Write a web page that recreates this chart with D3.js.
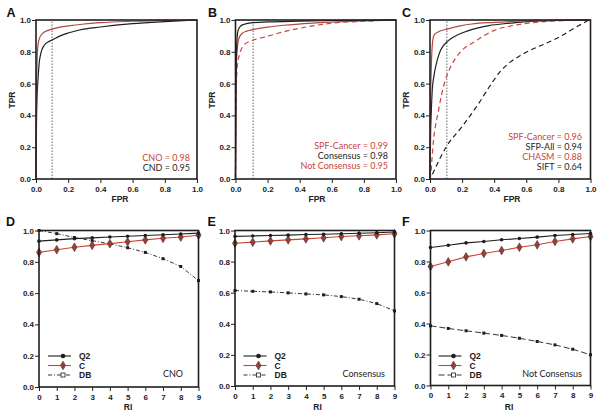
<!DOCTYPE html>
<html>
<head>
<meta charset="utf-8">
<script src="https://cdn.jsdelivr.net/npm/d3@7"></script>
<style>
  body { margin: 0; background: #fff; }
  .tick text { font-family: "Liberation Sans", Arial, sans-serif; font-weight: bold; font-size: 8px; fill: #222; }
  .tick line { stroke: #222; }
  .lab { font-family: "Liberation Sans", Arial, sans-serif; font-weight: bold; font-size: 8.5px; fill: #222; }
  .letter { font-family: "Liberation Sans", Arial, sans-serif; font-weight: bold; font-size: 12.5px; fill: #111; }
  .auc { font-family: Lato, "Open Sans", sans-serif; font-size: 9px; }
</style>
</head>
<body>
<div id="fig"></div>
<script>
// ---- panel A : ROC
var cnoFpr = [0, 0.002, 0.004, 0.007, 0.012, 0.02, 0.04, 0.07, 0.1, 0.15, 0.2, 0.3, 0.4, 0.6, 0.8, 1.0]
var cnoTpr = [0, 0.4, 0.6, 0.75, 0.84, 0.88, 0.915, 0.933, 0.943, 0.955, 0.963, 0.975, 0.983, 0.992, 0.998, 1.0]
var cndFpr = [0, 0.003, 0.006, 0.012, 0.02, 0.03, 0.05, 0.075, 0.1, 0.15, 0.2, 0.27, 0.4, 0.6, 0.8, 1.0]
var cndTpr = [0, 0.35, 0.5, 0.62, 0.73, 0.79, 0.84, 0.862, 0.874, 0.9, 0.918, 0.937, 0.956, 0.977, 0.99, 1.0]

// ---- panel B : ROC
var consFpr = [0, 0.003, 0.008, 0.015, 0.03, 0.05, 0.1, 0.2, 0.4, 0.6, 1.0]
var consTpr = [0, 0.6, 0.85, 0.93, 0.96, 0.972, 0.982, 0.988, 0.993, 0.997, 1.0]
var spfBFpr = [0, 0.003, 0.008, 0.02, 0.04, 0.07, 0.11, 0.2, 0.3, 0.5, 0.8, 1.0]
var spfBTpr = [0, 0.55, 0.78, 0.88, 0.915, 0.93, 0.94, 0.955, 0.967, 0.982, 0.995, 1.0]
var notConsFpr = [0, 0.003, 0.01, 0.027, 0.05, 0.08, 0.11, 0.2, 0.27, 0.4, 0.6, 0.8, 1.0]
var notConsTpr = [0, 0.45, 0.7, 0.79, 0.84, 0.862, 0.874, 0.897, 0.918, 0.948, 0.98, 0.992, 1.0]

// ---- panel C : ROC
var spfCFpr = [0, 0.003, 0.008, 0.015, 0.025, 0.05, 0.107, 0.18, 0.26, 0.4, 0.6, 0.8, 1.0]
var spfCTpr = [0, 0.45, 0.7, 0.85, 0.905, 0.925, 0.943, 0.962, 0.975, 0.985, 0.994, 0.998, 1.0]
var sfpAllFpr = [0, 0.004, 0.008, 0.014, 0.025, 0.035, 0.05, 0.066, 0.085, 0.107, 0.15, 0.22, 0.3, 0.367, 0.5, 0.6, 0.8, 1.0]
var sfpAllTpr = [0, 0.3, 0.42, 0.56, 0.65, 0.706, 0.765, 0.81, 0.84, 0.864, 0.895, 0.926, 0.95, 0.965, 0.98, 0.99, 0.998, 1.0]
var chasmFpr = [0, 0.005, 0.012, 0.022, 0.035, 0.05, 0.07, 0.095, 0.126, 0.16, 0.2, 0.28, 0.4, 0.5, 0.61, 0.8, 1.0]
var chasmTpr = [0, 0.03, 0.12, 0.245, 0.34, 0.415, 0.52, 0.62, 0.7, 0.76, 0.81, 0.865, 0.935, 0.962, 0.98, 0.995, 1.0]
var siftFpr = [0.015, 0.1, 0.2, 0.3, 0.37, 0.437, 0.5, 0.56, 0.625, 0.727, 0.8, 0.91, 0.99]
var siftTpr = [0.03, 0.2, 0.33, 0.47, 0.58, 0.675, 0.735, 0.775, 0.81, 0.855, 0.89, 0.955, 1.0]

// ---- panels D E F : RI
var ri = [0, 1, 2, 3, 4, 5, 6, 7, 8, 9]
var cnoQ2 = [0.932, 0.94, 0.948, 0.953, 0.958, 0.963, 0.968, 0.973, 0.978, 0.983]
var cnoC  = [0.86, 0.877, 0.893, 0.905, 0.916, 0.928, 0.94, 0.95, 0.958, 0.97]
var cnoDB = [1.0, 0.98, 0.955, 0.935, 0.915, 0.89, 0.86, 0.82, 0.77, 0.68]
var consQ2 = [0.962, 0.965, 0.968, 0.97, 0.974, 0.976, 0.979, 0.982, 0.986, 0.99]
var consC  = [0.918, 0.925, 0.933, 0.94, 0.946, 0.953, 0.961, 0.966, 0.972, 0.979]
var consDB = [0.614, 0.609, 0.605, 0.599, 0.592, 0.586, 0.575, 0.558, 0.53, 0.483]
var notQ2 = [0.89, 0.905, 0.92, 0.929, 0.94, 0.948, 0.957, 0.968, 0.974, 0.981]
var notC  = [0.768, 0.798, 0.83, 0.852, 0.871, 0.892, 0.908, 0.929, 0.946, 0.961]
var notDB = [0.385, 0.368, 0.353, 0.338, 0.323, 0.305, 0.284, 0.262, 0.234, 0.198]

var yTicks = [0, 0.2, 0.4, 0.6, 0.8, 1.0]
var fprTicks = [0, 0.2, 0.4, 0.6, 0.8, 1.0]

var RED = '#c8453a'
var DARKRED = '#b24a3e'
var BLACK = '#1e1e1e'

var svg = d3.select('#fig').append('svg')
            .attr('width', 600)
            .attr('height', 414)

function zip(a, b) { return a.map(function(v, i) { return [v, b[i]] }) }

function rocPanel(p) {
  var x = d3.scaleLinear().domain([0, 1]).range([p.left, p.right])
  var y = d3.scaleLinear().domain([0, 1]).range([179, 20])
  var g = svg.append('g')
  var xa = g.append('g').attr('transform', 'translate(0,179)')
   .call(d3.axisBottom(x).tickValues(fprTicks).tickSize(4).tickSizeOuter(0).tickFormat(d3.format('.1f')))
  xa.select('.domain').remove()
  xa.selectAll('text').attr('y', 7).attr('dy', '0.71em')
  var ya = g.append('g').attr('transform', 'translate(' + p.left + ',0)')
   .call(d3.axisLeft(y).tickValues(yTicks).tickSize(4).tickSizeOuter(0).tickFormat(d3.format('.1f')))
  ya.select('.domain').remove()
  ya.selectAll('text').attr('x', -5)

  g.append('line')
   .attr('x1', x(p.cut)).attr('x2', x(p.cut))
   .attr('y1', y(0)).attr('y2', y(1))
   .attr('stroke', '#666').attr('stroke-width', 1).attr('stroke-dasharray', '1.5,1.5')

  var line = d3.line().x(function(d) { return x(d[0]) }).y(function(d) { return y(d[1]) })
               .curve(d3.curveMonotoneX)
  p.curves.forEach(function(c) {
    g.append('path').datum(zip(c.fpr, c.tpr))
     .attr('d', line).attr('fill', 'none')
     .attr('stroke', c.color).attr('stroke-width', 1.2)
     .attr('stroke-dasharray', c.dash ? '5,3.5' : null)
  })

  g.append('rect')
   .attr('x', p.left).attr('y', 20)
   .attr('width', p.right - p.left).attr('height', 159)
   .attr('fill', 'none').attr('stroke', BLACK).attr('stroke-width', 1.6)

  p.legend.forEach(function(l, i) {
    g.append('text').attr('class', 'auc')
     .attr('x', p.legX).attr('y', p.legY + i * 10)
     .attr('text-anchor', 'end').attr('fill', l.color)
     .text(l.text)
  })

  g.append('text').attr('class', 'lab').attr('x', p.labX).attr('y', 201.5)
   .attr('text-anchor', 'middle').text('FPR')
  g.append('text').attr('class', 'lab')
   .attr('transform', 'translate(' + p.tprX + ',100) rotate(-90)')
   .attr('text-anchor', 'middle').text('TPR')
  g.append('text').attr('class', 'letter').attr('x', p.letX).attr('y', 17).text(p.letter)
}

function riPanel(p) {
  var x = d3.scaleLinear().domain([0, 9]).range([p.left, p.right])
  var y = d3.scaleLinear().domain([0, 1]).range([p.bottom, 230.5])
  var g = svg.append('g')
  var xa = g.append('g').attr('transform', 'translate(0,' + p.bottom + ')')
   .call(d3.axisBottom(x).tickValues(ri).tickSize(4).tickSizeOuter(0).tickFormat(d3.format('d')))
  xa.select('.domain').remove()
  xa.selectAll('text').attr('y', 7).attr('dy', '0.71em')
  var ya = g.append('g').attr('transform', 'translate(' + p.left + ',0)')
   .call(d3.axisLeft(y).tickValues(yTicks).tickSize(4).tickSizeOuter(0).tickFormat(d3.format('.1f')))
  ya.select('.domain').remove()
  ya.selectAll('text').attr('x', -5)

  var line = d3.line().x(function(d) { return x(d[0]) }).y(function(d) { return y(d[1]) })
  var diamond = d3.symbol().type(d3.symbolDiamond).size(22)

  // DB
  g.append('path').datum(zip(ri, p.db)).attr('d', line).attr('fill', 'none')
   .attr('stroke', BLACK).attr('stroke-width', 0.9).attr('stroke-dasharray', p.dbDash)
  g.selectAll('.db').data(zip(ri, p.db)).enter().append('rect')
   .attr('x', function(d) { return x(d[0]) - 1.5 }).attr('y', function(d) { return y(d[1]) - 1.5 })
   .attr('width', 3).attr('height', 3).attr('fill', BLACK)
  // C
  g.append('path').datum(zip(ri, p.c)).attr('d', line).attr('fill', 'none')
   .attr('stroke', RED).attr('stroke-width', 1.1)
  g.selectAll('.cm').data(zip(ri, p.c)).enter().append('path')
   .attr('d', diamond)
   .attr('transform', function(d) { return 'translate(' + x(d[0]) + ',' + y(d[1]) + ')' })
   .attr('fill', '#93423a').attr('stroke', '#5e2620').attr('stroke-width', 0.6)
  // Q2
  g.append('path').datum(zip(ri, p.q2)).attr('d', line).attr('fill', 'none')
   .attr('stroke', BLACK).attr('stroke-width', 1.1)
  g.selectAll('.q2').data(zip(ri, p.q2)).enter().append('circle')
   .attr('cx', function(d) { return x(d[0]) }).attr('cy', function(d) { return y(d[1]) })
   .attr('r', 1.8).attr('fill', BLACK)

  g.append('rect')
   .attr('x', p.left).attr('y', 230.5)
   .attr('width', p.right - p.left).attr('height', p.bottom - 230.5)
   .attr('fill', 'none').attr('stroke', BLACK).attr('stroke-width', 1.6)

  // legend
  var lx0 = p.legX, lx1 = p.legX + 23, mx = p.legX + 15
  var rows = [356, 365.5, 375]
  g.append('line').attr('x1', lx0).attr('x2', lx1).attr('y1', rows[0]).attr('y2', rows[0])
   .attr('stroke', BLACK).attr('stroke-width', 1.1)
  g.append('circle').attr('cx', mx).attr('cy', rows[0]).attr('r', 2.3).attr('fill', BLACK)
  g.append('line').attr('x1', lx0).attr('x2', lx1).attr('y1', rows[1]).attr('y2', rows[1])
   .attr('stroke', RED).attr('stroke-width', 1.1)
  g.append('path').attr('d', diamond).attr('transform', 'translate(' + mx + ',' + rows[1] + ')')
   .attr('fill', '#93423a').attr('stroke', '#5e2620').attr('stroke-width', 0.6)
  g.append('line').attr('x1', lx0).attr('x2', lx1).attr('y1', rows[2]).attr('y2', rows[2])
   .attr('stroke', BLACK).attr('stroke-width', 0.9).attr('stroke-dasharray', p.legDash)
  g.append('rect').attr('x', mx - 2).attr('y', rows[2] - 2).attr('width', 4).attr('height', 4)
   .attr('fill', '#fff').attr('stroke', BLACK).attr('stroke-width', 0.8)
  var names = ['Q2', 'C', 'DB']
  names.forEach(function(n, i) {
    g.append('text').attr('class', 'lab').attr('x', lx1 + 8).attr('y', rows[i] + 3).text(n)
  })

  g.append('text').attr('class', 'auc').attr('fill', '#222')
   .attr('x', p.tagX).attr('y', 376.5).attr('text-anchor', p.tagAnchor).text(p.tag)

  g.append('text').attr('class', 'lab').attr('x', p.labX).attr('y', 410)
   .attr('text-anchor', 'middle').text('RI')
  g.append('text').attr('class', 'letter').attr('x', p.letX).attr('y', 225.5).text(p.letter)
}

rocPanel({
  letter: 'A', letX: 6.5, left: 36, right: 197, cut: 0.1, labX: 120, tprX: 14.5,
  curves: [
    { fpr: cndFpr, tpr: cndTpr, color: BLACK },
    { fpr: cnoFpr, tpr: cnoTpr, color: DARKRED }
  ],
  legX: 190, legY: 161,
  legend: [{ text: 'CNO = 0.98', color: RED }, { text: 'CND = 0.95', color: BLACK }]
})

rocPanel({
  letter: 'B', letX: 208, left: 235.5, right: 396, cut: 0.11, labX: 317, tprX: 214.5,
  curves: [
    { fpr: notConsFpr, tpr: notConsTpr, color: RED, dash: true },
    { fpr: spfBFpr, tpr: spfBTpr, color: DARKRED },
    { fpr: consFpr, tpr: consTpr, color: BLACK }
  ],
  legX: 388, legY: 149,
  legend: [{ text: 'SPF-Cancer = 0.99', color: RED }, { text: 'Consensus = 0.98', color: BLACK },
           { text: 'Not Consensus = 0.95', color: RED }]
})

rocPanel({
  letter: 'C', letX: 402, left: 430, right: 590.5, cut: 0.105, labX: 512, tprX: 408.5,
  curves: [
    { fpr: siftFpr, tpr: siftTpr, color: BLACK, dash: true },
    { fpr: chasmFpr, tpr: chasmTpr, color: RED, dash: true },
    { fpr: sfpAllFpr, tpr: sfpAllTpr, color: BLACK },
    { fpr: spfCFpr, tpr: spfCTpr, color: DARKRED }
  ],
  legX: 582, legY: 140,
  legend: [{ text: 'SPF-Cancer = 0.96', color: RED }, { text: 'SFP-All = 0.94', color: BLACK },
           { text: 'CHASM = 0.88', color: RED }, { text: 'SIFT = 0.64', color: BLACK }]
})

riPanel({
  letter: 'D', letX: 6, left: 39, right: 198.5, bottom: 387, labX: 128,
  q2: cnoQ2, c: cnoC, db: cnoDB, dbDash: '4,2,1,2', legDash: '4,2,1,2',
  legX: 48, tag: 'CNO', tagX: 173, tagAnchor: 'middle'
})

riPanel({
  letter: 'E', letX: 207.5, left: 235, right: 394.5, bottom: 386, labX: 317.5,
  q2: consQ2, c: consC, db: consDB, dbDash: '4,2,1,2', legDash: '4,2,1,2',
  legX: 243.5, tag: 'Consensus', tagX: 385, tagAnchor: 'end'
})

riPanel({
  letter: 'F', letX: 402, left: 430.5, right: 590.5, bottom: 385.5, labX: 509,
  q2: notQ2, c: notC, db: notDB, dbDash: '6,3', legDash: '6,3',
  legX: 438.5, tag: 'Not Consensus', tagX: 582, tagAnchor: 'end'
})
</script>
</body>
</html>
